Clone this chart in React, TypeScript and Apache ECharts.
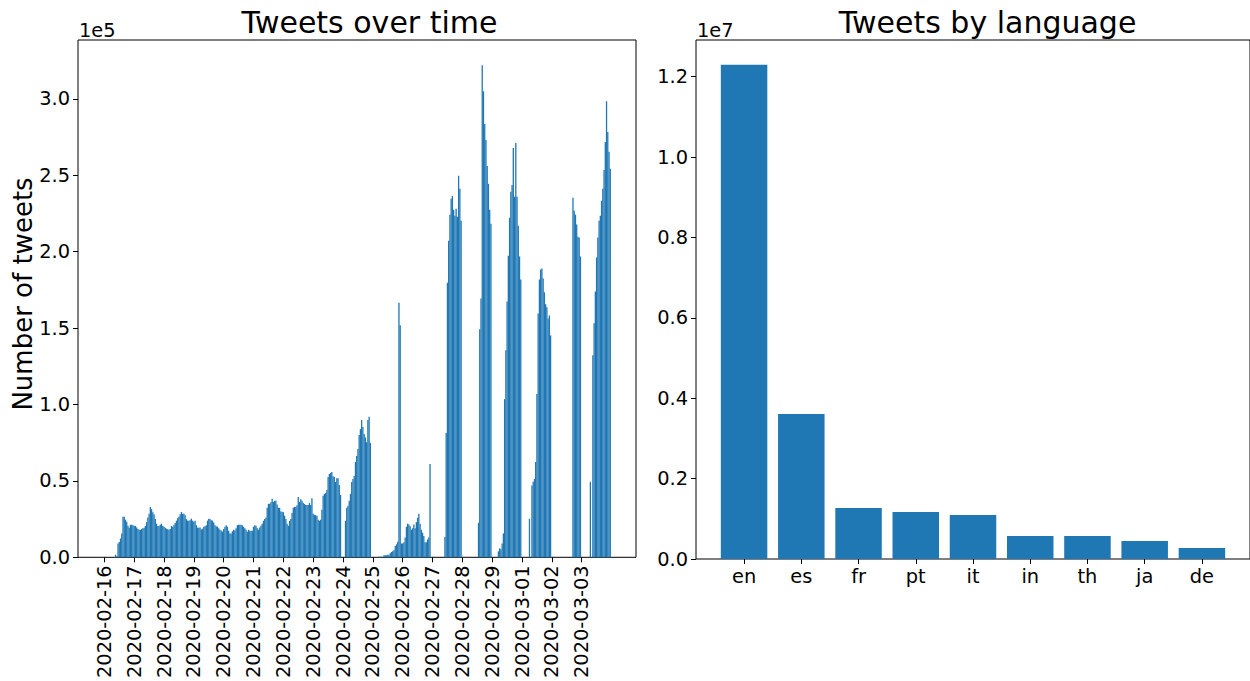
import React, { useEffect, useRef } from "react";
import * as echarts from "echarts";

// Tick labels of the hourly chart (one per day, at midnight)
const dateLabels = [
  "2020-02-16", "2020-02-17", "2020-02-18", "2020-02-19", "2020-02-20", "2020-02-21",
  "2020-02-22", "2020-02-23", "2020-02-24", "2020-02-25", "2020-02-26", "2020-02-27",
  "2020-02-28", "2020-02-29", "2020-03-01", "2020-03-02", "2020-03-03",
];

// Tweets per hour, in thousands, one array per day (24 hours each)
const feb16 = [0, 0, 0, 0, 0, 0, 0, 0, 0, 1.7, 0.5, 9, 10, 12.3, 15.5, 26.6, 26.6, 24.6, 23.3, 20.7, 19.4, 21.3, 21.3, 21];
const feb17 = [20.7, 20.5, 19.5, 18.5, 18, 18, 18.5, 19, 19.4, 20.5, 23, 26, 28.5, 33, 31.5, 29.5, 28, 25, 22, 20.5, 20.5, 21.3, 22, 20.5];
const feb18 = [20, 19.4, 18.7, 18.4, 18, 18.5, 20.5, 20, 21.3, 22.5, 24, 25.5, 26.6, 28.2, 29.7, 28.5, 28.5, 27.5, 25, 24, 24, 24.3, 25.3, 24];
const feb19 = [23.3, 24, 21, 19.4, 19.4, 19.5, 18.2, 18.7, 20, 20.3, 21, 24, 25.3, 25, 24.2, 24, 22.7, 21, 20.3, 20, 19, 18, 17.5, 16.8];
const feb20 = [18.5, 20, 21, 20, 17.4, 15.5, 15.5, 17, 18, 17.5, 19, 21, 21.3, 21.3, 21.3, 21, 20, 19, 18, 16.7, 18, 17.4, 17.4, 17.4];
const feb21 = [20, 21, 20.7, 19, 18, 19.5, 20.7, 22, 23.9, 25, 26, 32.4, 35, 35, 36, 38.3, 36.3, 37, 37, 34.5, 32.4, 32.4, 30, 29.8];
const feb22 = [29.5, 27.2, 25, 22, 20.7, 23.9, 25, 29, 32.4, 33, 33, 34, 39.4, 36.2, 38, 37, 35.5, 34.9, 34.3, 34.3, 34.3, 35.6, 34.3, 38.7];
const feb23 = [28.5, 27.8, 27.5, 27.2, 24.6, 23.9, 24.6, 31.1, 40.3, 41.5, 42, 44, 52.5, 54.5, 55.2, 55.8, 53, 52.5, 49.3, 51.8, 51.8, 47.3, 40.8, 0];
const feb24 = [0, 0, 23.9, 32.4, 33.7, 37, 41.5, 49.3, 51.3, 53.2, 62.4, 66.3, 70.9, 80, 83.9, 89.8, 85.2, 80.7, 78.5, 75.3, 89.9, 92, 74.9, 0];
const feb25 = [0, 0, 0, 0, 0, 0.4, 0.4, 0.4, 0.4, 1.3, 1.3, 1.3, 1.7, 1.7, 2.6, 3.5, 4, 4.6, 7.4, 8.5, 10.2, 166.6, 151.8, 9.1];
const feb26 = [9.1, 9.8, 13, 20, 22, 21.5, 20.4, 18, 19, 21.5, 19, 23, 25.9, 28.5, 22, 18, 16.1, 13.9, 9.8, 9.8, 11.7, 13, 61.1, 0];
const feb27 = [0, 0, 0, 0, 0, 0, 0, 0, 0, 0, 13.3, 81.3, 179.6, 207.2, 224.2, 234.6, 236.5, 227.4, 223.5, 228, 222.8, 249.6, 241.1, 220.2];
const feb28 = [0, 0, 0, 0, 0, 0, 0, 0, 0, 0, 0, 0, 0, 22.6, 149.2, 169.4, 322, 305, 283.5, 273.1, 256.1, 244.4, 227.4, 218.3];
const feb29 = [0, 0, 0, 0, 0, 3.9, 5.9, 5.2, 9.1, 15.6, 103.5, 135.5, 167.4, 197.4, 222.2, 239.2, 243.7, 267.9, 236, 271.1, 236, 217, 196.8, 181.8];
const mar01 = [0, 0, 0, 0, 0, 0, 25.2, 0, 47, 49.4, 51.3, 62.4, 106.8, 159.6, 181.8, 188.3, 189, 182.5, 173.4, 165.6, 163.6, 156.3, 158.3, 145.2];
const mar02 = [0, 0, 0, 0, 0, 0, 0, 0, 0, 0, 0, 0, 0, 0, 0, 0, 0, 235.3, 226.8, 224.2, 217.7, 209.8, 209.2, 196.8];
const mar03 = [0, 0, 0, 0, 0, 0, 0, 49.4, 0, 132.2, 153.1, 174, 196.2, 209.2, 220.2, 223.5, 233.3, 241.1, 253.5, 271.7, 298.5, 278.3, 265.3, 254.2];

const hourlyThousands = [
  feb16, feb17, feb18, feb19, feb20, feb21, feb22, feb23, feb24,
  feb25, feb26, feb27, feb28, feb29, mar01, mar02, mar03,
].flat();

const leftYTicks = [0, 50000, 100000, 150000, 200000, 250000, 300000];

// Tweets by language
const languages = ["en", "es", "fr", "pt", "it", "in", "th", "ja", "de"];
const languageCounts = [12298000, 3610000, 1270000, 1170000, 1095000, 573000, 573000, 448000, 274000];
const rightYTicks = [0, 2000000, 4000000, 6000000, 8000000, 10000000, 12000000];

const FONT = "DejaVu Sans";
const BLUE = "#1f77b4";
const TICK_FONT = 19.4;

export default function App() {
  const ref = useRef<HTMLDivElement>(null);

  useEffect(() => {
    if (!ref.current) return;
    const chart = echarts.init(ref.current, null, { renderer: "svg" });
    const hourTicks = dateLabels.map((_, i) => i * 24);
    const langTicks = languages.map((_, i) => i);
    const tickStyle = { show: true, length: 5, inside: false, lineStyle: { color: "#000", width: 1 } };
    const labelStyle = { color: "#000", fontSize: TICK_FONT, fontFamily: FONT };
    const noLine = { show: false, onZero: false };

    chart.setOption({
      animation: false,
      textStyle: { fontFamily: FONT },
      grid: [
        { left: 78, top: 40, width: 558, height: 519, show: true, borderColor: "#000", borderWidth: 1, backgroundColor: "transparent" },
        { left: 696, top: 40, width: 558, height: 519, show: true, borderColor: "#000", borderWidth: 1, backgroundColor: "transparent" },
      ],
      xAxis: [
        {
          type: "value",
          gridIndex: 0,
          min: -21.2,
          max: 427.7,
          axisLine: noLine,
          splitLine: { show: false },
          axisTick: { ...tickStyle, customValues: hourTicks },
          axisLabel: {
            ...labelStyle,
            rotate: 90,
            margin: 8,
            customValues: hourTicks,
            formatter: (v: number) => dateLabels[Math.round(v / 24)] ?? "",
          },
        },
        {
          type: "value",
          gridIndex: 1,
          min: -0.84,
          max: 8.84,
          axisLine: noLine,
          splitLine: { show: false },
          axisTick: { ...tickStyle, customValues: langTicks },
          axisLabel: {
            ...labelStyle,
            margin: 8,
            customValues: langTicks,
            formatter: (v: number) => languages[Math.round(v)] ?? "",
          },
        },
      ],
      yAxis: [
        {
          type: "value",
          gridIndex: 0,
          min: 0,
          max: 338500,
          axisLine: noLine,
          splitLine: { show: false },
          axisTick: { ...tickStyle, customValues: leftYTicks },
          axisLabel: {
            ...labelStyle,
            margin: 8,
            customValues: leftYTicks,
            formatter: (v: number) => (v / 1e5).toFixed(1),
          },
        },
        {
          type: "value",
          gridIndex: 1,
          min: 0,
          max: 12913000,
          axisLine: noLine,
          splitLine: { show: false },
          axisTick: { ...tickStyle, customValues: rightYTicks },
          axisLabel: {
            ...labelStyle,
            margin: 8,
            customValues: rightYTicks,
            formatter: (v: number) => (v / 1e7).toFixed(1),
          },
        },
      ],
      series: [
        {
          type: "bar",
          xAxisIndex: 0,
          yAxisIndex: 0,
          barWidth: 1.3,
          itemStyle: { color: BLUE },
          data: hourlyThousands.map((v, h) => [h, v * 1000]),
        },
        {
          type: "bar",
          xAxisIndex: 1,
          yAxisIndex: 1,
          barWidth: 46.5,
          itemStyle: { color: BLUE },
          data: languageCounts.map((v, i) => [i, v]),
        },
      ],
      graphic: [
        { type: "text", x: 369.5, y: 22, style: { text: "Tweets over time", fontSize: 30, fontFamily: FONT, fill: "#000", align: "center", verticalAlign: "middle" } },
        { type: "text", x: 987.5, y: 22, style: { text: "Tweets by language", fontSize: 30, fontFamily: FONT, fill: "#000", align: "center", verticalAlign: "middle" } },
        { type: "text", x: 79, y: 30, style: { text: "1e5", fontSize: TICK_FONT, fontFamily: FONT, fill: "#000", align: "left", verticalAlign: "middle" } },
        { type: "text", x: 697, y: 30, style: { text: "1e7", fontSize: TICK_FONT, fontFamily: FONT, fill: "#000", align: "left", verticalAlign: "middle" } },
        { type: "text", x: 23, y: 294, rotation: Math.PI / 2, style: { text: "Number of tweets", fontSize: 26, fontFamily: FONT, fill: "#000", align: "center", verticalAlign: "middle" } },
      ],
    });

    return () => chart.dispose();
  }, []);

  return (
    <div
      ref={ref}
      style={{ position: "fixed", left: 0, top: 0, width: 1250, height: 681, background: "#fff" }}
    />
  );
}
